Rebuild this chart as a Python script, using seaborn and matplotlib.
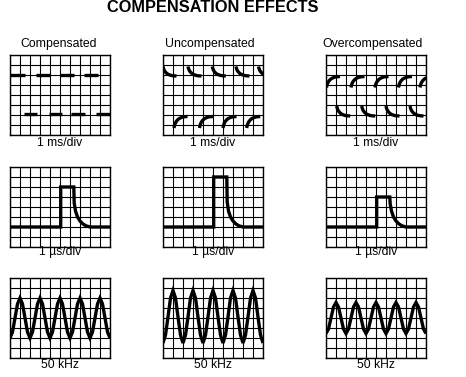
import numpy as np
import pandas as pd
import matplotlib
matplotlib.use("Agg")
import matplotlib.pyplot as plt
import seaborn as sns

# ---------------- text ----------------
TITLE = "COMPENSATION EFFECTS"
COLUMNS = ["Compensated", "Uncompensated", "Overcompensated"]
ROW_LABELS = ["1 ms/div", "1 \u00b5s/div", "50 kHz"]

# ---------------- row 1 : 1 ms/div square-wave response ----------------
# compensated: flat segments (start, end) at two levels
SQ_HIGH_LEVEL = 6.0
SQ_LOW_LEVEL = 2.1
SQ_HIGH_START = [0.0, 2.6, 4.95, 7.4]
SQ_HIGH_END = [1.5, 3.95, 6.35, 8.8]
SQ_LOW_START = [1.35, 3.85, 6.1, 8.6]
SQ_LOW_END = [2.7, 5.2, 7.5, 10.0]

# shape of one rounded segment: horizontal offset vs fraction of level change
ARC_DX = [0.0, 0.04, 0.1, 0.18, 0.28, 0.42, 0.6, 0.82, 1.05, 1.35]
ARC_FRAC = [0.0, 0.18, 0.35, 0.5, 0.63, 0.76, 0.86, 0.94, 0.98, 1.0]

UNC_UPPER_STARTS = [0.0, 2.5, 4.93, 7.3, 9.55]
UNC_UPPER_LEVELS = (6.85, 5.9)
UNC_LOWER_STARTS = [1.1, 3.65, 6.0, 8.37]
UNC_LOWER_LEVELS = (0.7, 1.85)

OVR_UPPER_STARTS = [0.05, 2.5, 4.9, 7.25, 9.4]
OVR_UPPER_LEVELS = (4.75, 5.85)
OVR_LOWER_STARTS = [1.07, 3.57, 6.0, 8.4]
OVR_LOWER_LEVELS = (2.9, 1.9)

# ---------------- row 2 : 1 us/div pulse response ----------------
PULSE_X = [0.0, 5.07, 5.07, 6.38, 6.42, 6.55, 6.75, 7.0, 7.3, 7.6, 8.0, 10.0]
PULSE_COMP = [2.0, 2.0, 6.0, 6.0, 4.4, 3.6, 3.0, 2.6, 2.3, 2.12, 2.0, 2.0]
PULSE_UNC = [2.0, 2.0, 7.0, 7.0, 4.5, 3.6, 3.0, 2.6, 2.3, 2.12, 2.0, 2.0]
PULSE_OVR = [2.0, 2.0, 5.0, 5.0, 4.3, 3.6, 3.0, 2.6, 2.3, 2.12, 2.0, 2.0]

# ---------------- row 3 : 50 kHz sine response (sampled every 0.25 div) ----------------
SINE_X = [i * 0.25 for i in range(41)]
SINE_COMP = [2.0, 2.6, 4.0, 5.4, 6.0, 5.4, 4.0, 2.6,
             2.0, 2.6, 4.0, 5.4, 6.0, 5.4, 4.0, 2.6,
             2.0, 2.6, 4.0, 5.4, 6.0, 5.4, 4.0, 2.6,
             2.0, 2.6, 4.0, 5.4, 6.0, 5.4, 4.0, 2.6,
             2.0, 2.6, 4.0, 5.4, 6.0, 5.4, 4.0, 2.6,
             2.0]
SINE_UNC = [1.5, 2.3, 4.1, 6.0, 6.75, 6.0, 4.1, 2.3,
            1.5, 2.3, 4.1, 6.0, 6.75, 6.0, 4.1, 2.3,
            1.5, 2.3, 4.1, 6.0, 6.75, 6.0, 4.1, 2.3,
            1.5, 2.3, 4.1, 6.0, 6.75, 6.0, 4.1, 2.3,
            1.5, 2.3, 4.1, 6.0, 6.75, 6.0, 4.1, 2.3,
            1.5]
SINE_OVR = [2.45, 2.9, 4.0, 5.1, 5.55, 5.1, 4.0, 2.9,
            2.45, 2.9, 4.0, 5.1, 5.55, 5.1, 4.0, 2.9,
            2.45, 2.9, 4.0, 5.1, 5.55, 5.1, 4.0, 2.9,
            2.45, 2.9, 4.0, 5.1, 5.55, 5.1, 4.0, 2.9,
            2.45, 2.9, 4.0, 5.1, 5.55, 5.1, 4.0, 2.9,
            2.45]


# ---------------- build tables ----------------
def square_df():
    rows = []
    seg = 0
    for s, e in zip(SQ_HIGH_START, SQ_HIGH_END):
        rows += [(s, SQ_HIGH_LEVEL, seg), (e, SQ_HIGH_LEVEL, seg)]
        seg += 1
    for s, e in zip(SQ_LOW_START, SQ_LOW_END):
        rows += [(s, SQ_LOW_LEVEL, seg), (e, SQ_LOW_LEVEL, seg)]
        seg += 1
    return pd.DataFrame(rows, columns=["x", "y", "seg"])


def arcs_df(groups):
    rows = []
    seg = 0
    for starts, (y0, y1) in groups:
        for s in starts:
            for dx, f in zip(ARC_DX, ARC_FRAC):
                rows.append((s + dx, y0 + (y1 - y0) * f, seg))
            seg += 1
    return pd.DataFrame(rows, columns=["x", "y", "seg"])


def line_df(xs, ys):
    return pd.DataFrame({"x": xs, "y": ys, "seg": 0})


panels = [
    [square_df(),
     arcs_df([(UNC_UPPER_STARTS, UNC_UPPER_LEVELS), (UNC_LOWER_STARTS, UNC_LOWER_LEVELS)]),
     arcs_df([(OVR_UPPER_STARTS, OVR_UPPER_LEVELS), (OVR_LOWER_STARTS, OVR_LOWER_LEVELS)])],
    [line_df(PULSE_X, PULSE_COMP), line_df(PULSE_X, PULSE_UNC), line_df(PULSE_X, PULSE_OVR)],
    [line_df(SINE_X, SINE_COMP), line_df(SINE_X, SINE_UNC), line_df(SINE_X, SINE_OVR)],
]

# ---------------- drawing ----------------
sns.set_theme(style="white")
plt.rcParams["font.family"] = ["Liberation Sans", "DejaVu Sans"]

W, H = 466, 377
fig = plt.figure(figsize=(W / 100, H / 100), dpi=100)
fig.patch.set_facecolor("white")

col_left = [10, 163, 326]
row_top = [55, 167, 278]
pw, ph = 100, 80
label_base = [145.5, 254.5, 368.0]

for r in range(3):
    for c in range(3):
        ax = fig.add_axes([col_left[c] / W, 1 - (row_top[r] + ph) / H, pw / W, ph / H])
        ax.set_facecolor("white")
        df = panels[r][c]
        sns.lineplot(data=df, x="x", y="y", units="seg", estimator=None, sort=False,
                     color="black", lw=2.4, ax=ax, legend=False,
                     solid_capstyle="butt", solid_joinstyle="miter")
        ax.set_xlim(0, 10)
        ax.set_ylim(0, 8)
        ax.set_xticks(range(11))
        ax.set_yticks(range(9))
        ax.tick_params(length=0, labelbottom=False, labelleft=False)
        ax.set_xlabel("")
        ax.set_ylabel("")
        ax.grid(True, color="black", lw=0.8)
        ax.set_axisbelow(True)
        for sp in ax.spines.values():
            sp.set_color("black")
            sp.set_linewidth(1.0)
            sp.set_visible(True)
        fig.text((col_left[c] + pw / 2) / W, 1 - label_base[r] / H, ROW_LABELS[r],
                 ha="center", va="baseline", fontsize=8.7, color="black")

col_centers = [58.5, 210, 373]
for c in range(3):
    fig.text(col_centers[c] / W, 1 - 46.7 / H, COLUMNS[c], ha="center", va="baseline",
             fontsize=8.8, color="black")

fig.text(213 / W, 1 - 11.8 / H, TITLE, ha="center", va="baseline",
         fontsize=11.8, fontweight="bold", color="black")

fig.savefig("out.png", dpi=100, facecolor="white")
